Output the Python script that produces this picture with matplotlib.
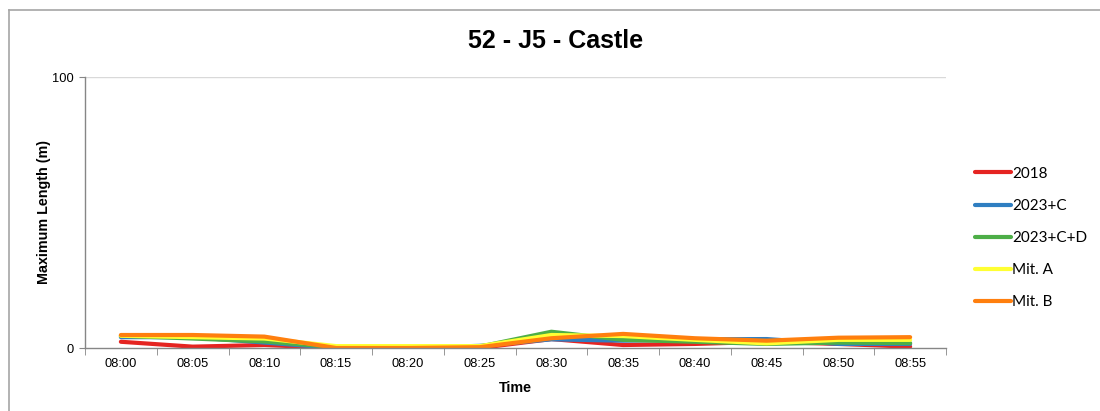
import matplotlib
matplotlib.use("Agg")
import matplotlib.pyplot as plt
from matplotlib.lines import Line2D
import numpy as np

times = ["08:00", "08:05", "08:10", "08:15", "08:20", "08:25",
         "08:30", "08:35", "08:40", "08:45", "08:50", "08:55"]
s2018 = [2.3, 0.5, 1.1, 0.0, 0.0, 0.0, 3.3, 1.1, 1.5, 2.3, 1.5, 0.5]
s2023c = [4.0, 4.0, 2.0, 0.0, 0.0, 0.8, 3.2, 2.7, 3.2, 3.3, 1.5, 1.5]
s2023cd = [4.5, 3.5, 2.4, 0.3, 0.3, 0.5, 6.0, 3.0, 2.3, 1.5, 2.0, 1.8]
mit_a = [4.5, 4.0, 3.5, 0.7, 0.7, 0.7, 4.8, 4.4, 3.0, 1.7, 3.0, 3.0]
mit_b = [4.8, 4.8, 4.2, 0.0, 0.0, 0.3, 3.6, 5.2, 3.6, 2.7, 3.8, 4.0]

series = [
    ("2018", s2018, "#E52421"),
    ("2023+C", s2023c, "#2F7EC1"),
    ("2023+C+D", s2023cd, "#4DAE47"),
    ("Mit. A", mit_a, "#FFFF33"),
    ("Mit. B", mit_b, "#FF7F0E"),
]

W, H = 1100, 411
fig = plt.figure(figsize=(W / 100, H / 100), dpi=100)

# outer chart frame: top and left edges
fx, fy = 8.5 / W, (H - 10.5) / H
fig.add_artist(Line2D([fx, 1.0], [fy, fy], transform=fig.transFigure,
                      color="#A6A6A6", linewidth=1.2))
fig.add_artist(Line2D([fx, fx], [0.0, fy], transform=fig.transFigure,
                      color="#A6A6A6", linewidth=1.2))

ax = fig.add_axes([85 / W, (H - 348) / H, (946 - 85) / W, (348 - 77) / H])
x = np.arange(len(times))
for name, vals, col in series:
    ax.plot(x, vals, color=col, linewidth=3.0, label=name,
            solid_capstyle="round", solid_joinstyle="round")

tick_font = {"family": "Liberation Sans", "size": 9.3}
ax.set_xlim(-0.5, len(times) - 0.5)
ax.set_ylim(0, 100)
ax.set_yticks([0, 100])
ax.set_yticklabels(["0", "100"], **tick_font)
ax.set_xticks(x)
ax.set_xticklabels(times, **tick_font)
ax.set_xticks(np.arange(-0.5, len(times)), minor=True)
ax.tick_params(axis="x", which="major", length=0, pad=7)
ax.tick_params(axis="x", which="minor", length=5, color="#868686", direction="out")
ax.tick_params(axis="y", length=4, color="#868686", pad=4)

ax.axhline(100, color="#D9D9D9", linewidth=1.0, zorder=0)
for side in ["top", "right"]:
    ax.spines[side].set_visible(False)
for side in ["left", "bottom"]:
    ax.spines[side].set_color("#868686")
    ax.spines[side].set_linewidth(1.0)

ax.set_xlabel("Time", fontsize=10.3, fontweight="bold", family="Liberation Sans", labelpad=8)
ax.set_ylabel("Maximum Length (m)", fontsize=10.3, fontweight="bold",
              family="Liberation Sans", labelpad=1)

fig.text(556 / W, (H - 41) / H, "52 - J5 - Castle", ha="center", va="center",
         fontsize=18, fontweight="bold", family="Liberation Sans")

leg = fig.legend(loc="upper left", bbox_to_anchor=(961 / W, (H - 153) / H),
                 frameon=False, prop={"family": "Lato", "size": 11},
                 handlelength=2.4, handletextpad=0.05, labelspacing=1.19)
for line in leg.get_lines():
    line.set_linewidth(3.0)

fig.savefig("out.png", dpi=100)
